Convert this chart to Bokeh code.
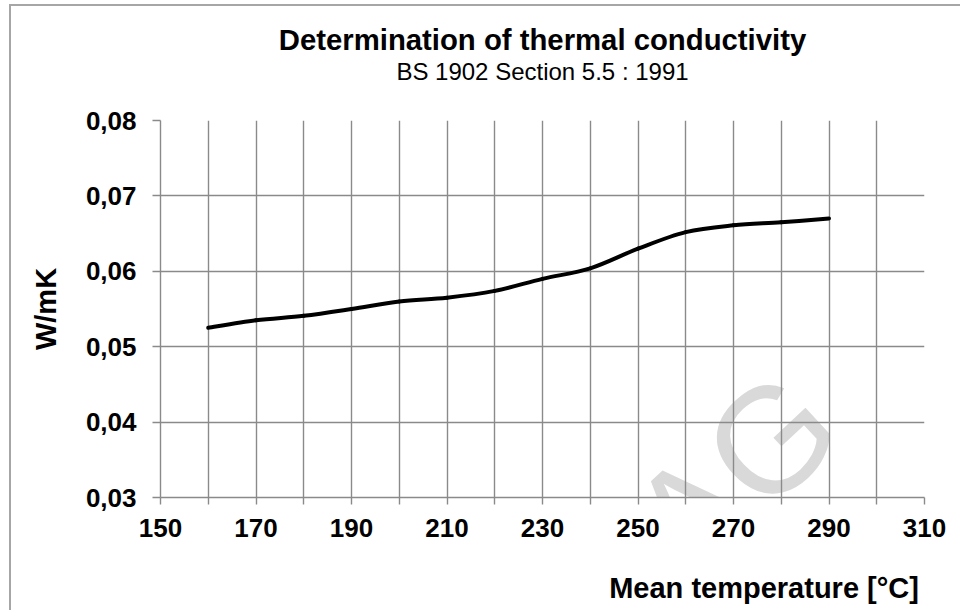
import numpy as np
from bokeh.plotting import figure
from bokeh.models import FixedTicker, Label, Title, ColumnDataSource
from bokeh.embed import file_html
from bokeh.resources import INLINE

# ---- data ----
temperature = [160, 170, 180, 190, 200, 210, 220, 230, 240, 250, 260, 270, 280, 290]
conductivity = [0.0525, 0.0535, 0.0541, 0.0550, 0.0560, 0.0565, 0.0574,
                0.0590, 0.0604, 0.0630, 0.0652, 0.0661, 0.0665, 0.0670]

x_major = [150, 170, 190, 210, 230, 250, 270, 290, 310]
x_minor = [160, 180, 200, 220, 240, 260, 280, 300]
x_labels = ["150", "170", "190", "210", "230", "250", "270", "290", "310"]
y_ticks = [0.03, 0.04, 0.05, 0.06, 0.07, 0.08]
y_labels = ["0,03", "0,04", "0,05", "0,06", "0,07", "0,08"]

title_text = "Determination of thermal conductivity"
subtitle_text = "BS 1902 Section 5.5 : 1991"
x_title = "Mean temperature [°C]"
y_title = "W/mK"
watermark = "Rath AG"

FONT = "Liberation Sans"
GRID = "#8a8a8a"
FRAME = "#a6a6a6"

p = figure(width=960, height=610, output_backend="svg", toolbar_location=None,
           x_range=(150, 310), y_range=(0.03, 0.08),
           min_border_left=160, min_border_right=36,
           min_border_top=120, min_border_bottom=113)
p.title.text = ""
p.background_fill_color = "white"
p.border_fill_alpha = 0
p.outline_line_color = None
# outer chart-area border (drawn behind the transparent canvas border)
p.styles = {
    "background": (f"linear-gradient({FRAME},{FRAME}) 9px 4px / 2px 3000px no-repeat, "
                   f"linear-gradient({FRAME},{FRAME}) 9px 4px / 3000px 2px no-repeat, white"),
}

# watermark (under grid)
p.add_layout(Label(x=288.0, y=0.0437, text=watermark, angle=np.deg2rad(43),
                   text_align="right", text_baseline="alphabetic",
                   text_font=FONT, text_font_size="150px", text_color="#d9d9d9",
                   level="image"))

# axes
p.xaxis.ticker = FixedTicker(ticks=x_major, minor_ticks=x_minor)
p.xaxis.major_label_overrides = {t: l for t, l in zip(x_major, x_labels)}
p.yaxis.ticker = FixedTicker(ticks=y_ticks, minor_ticks=[])
p.yaxis.major_label_overrides = {t: l for t, l in zip(y_ticks, y_labels)}

for ax in (p.xaxis, p.yaxis):
    ax.axis_line_color = GRID
    ax.axis_line_width = 1.4
    ax.major_tick_line_color = GRID
    ax.major_tick_line_width = 1.4
    ax.major_tick_in = 0
    ax.minor_tick_in = 0
    ax.major_label_text_font = FONT
    ax.major_label_text_font_style = "bold"
    ax.major_label_text_font_size = "26px"
    ax.major_label_text_color = "black"
    ax.axis_label_text_font = FONT
    ax.axis_label_text_font_style = "bold"
    ax.axis_label_text_font_size = "29px"
    ax.axis_label_text_color = "black"

p.xaxis.major_tick_out = 7
p.xaxis.minor_tick_out = 7
p.xaxis.minor_tick_line_color = GRID
p.xaxis.minor_tick_line_width = 1.4
p.xaxis.major_label_standoff = 14
p.yaxis.major_tick_out = 8
p.yaxis.minor_tick_line_color = None
p.yaxis.major_label_standoff = 16

p.yaxis.axis_label = y_title
p.yaxis.axis_label_standoff = 21

# x-axis title: centred label, pushed to the right end of the axis
# with leading no-break spaces
p.xaxis.axis_label = "\u00a0" * 55 + x_title
p.xaxis.axis_label_standoff = 32

p.xgrid.grid_line_color = GRID
p.xgrid.grid_line_width = 1.4
p.xgrid.minor_grid_line_color = GRID
p.xgrid.minor_grid_line_width = 1.4
p.ygrid.grid_line_color = GRID
p.ygrid.grid_line_width = 1.4

# smoothed curve through the data points (cubic Bezier segments)
xs = np.array(temperature, dtype=float)
ys = np.array(conductivity, dtype=float)
xp = np.concatenate([[xs[0]], xs, [xs[-1]]])
yp = np.concatenate([[ys[0]], ys, [ys[-1]]])
n = len(xs) - 1
src = ColumnDataSource(dict(
    x0=xs[:-1], y0=ys[:-1], x1=xs[1:], y1=ys[1:],
    cx0=xs[:-1] + (xp[2:n + 2] - xp[0:n]) / 6.0,
    cy0=ys[:-1] + (yp[2:n + 2] - yp[0:n]) / 6.0,
    cx1=xs[1:] - (xp[3:n + 3] - xp[1:n + 1]) / 6.0,
    cy1=ys[1:] - (yp[3:n + 3] - yp[1:n + 1]) / 6.0,
))
p.bezier(x0="x0", y0="y0", x1="x1", y1="y1", cx0="cx0", cy0="cy0",
         cx1="cx1", cy1="cy1", source=src, line_color="black", line_width=4,
         line_cap="round")

# titles (subtitle first: it sits next to the frame)
p.add_layout(Title(text=subtitle_text, align="center", offset=2, standoff=71,
                   text_font=FONT, text_font_style="normal", text_font_size="24px",
                   text_color="black"), "above")
main_title = Title(text=title_text, align="center", offset=7, standoff=0,
                   text_font=FONT, text_font_style="bold", text_font_size="29.3px",
                   text_color="black")
try:
    main_title.standoff = -71
except Exception:
    pass
p.add_layout(main_title, "above")

open("out.html", "w").write(file_html(p, INLINE))
